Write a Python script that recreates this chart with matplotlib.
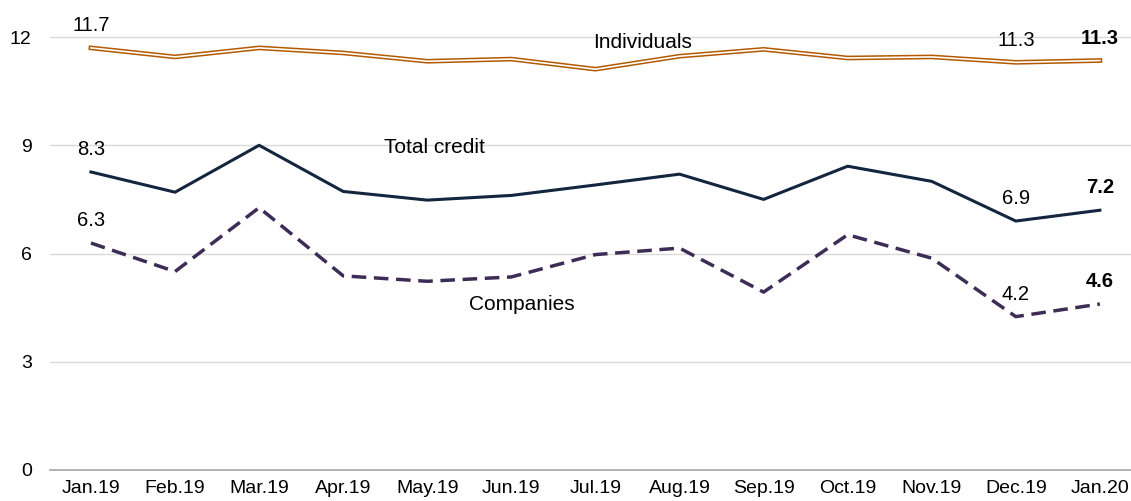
import matplotlib.pyplot as plt

plt.rcParams['font.family'] = ['Liberation Sans', 'DejaVu Sans']

months = ['Jan.19', 'Feb.19', 'Mar.19', 'Apr.19', 'May.19', 'Jun.19', 'Jul.19',
          'Aug.19', 'Sep.19', 'Oct.19', 'Nov.19', 'Dec.19', 'Jan.20']
individuals = [11.7, 11.45, 11.7, 11.56, 11.33, 11.39, 11.11, 11.47, 11.66, 11.42, 11.45, 11.3, 11.35]
total_credit = [8.26, 7.7, 9.0, 7.72, 7.48, 7.61, 7.9, 8.2, 7.5, 8.42, 8.0, 6.9, 7.2]
companies = [6.29, 5.5, 7.27, 5.38, 5.23, 5.35, 5.97, 6.15, 4.93, 6.52, 5.87, 4.25, 4.6]

x = list(range(len(months)))

fig = plt.figure(figsize=(11.31, 5.01), dpi=100)
ax = fig.add_axes([0.044, 0.062, 0.956, 0.9])

# Individuals: double line (brown outline, white core)
ax.plot(x, individuals, color='#B35900', lw=3.4, solid_joinstyle='miter', zorder=3)
ax.plot(x, individuals, color='white', lw=1.2, solid_joinstyle='miter', zorder=4)
ax.plot(x, total_credit, color='#14263F', lw=2.2, zorder=3)
ax.plot(x, companies, color='#3D2C55', lw=2.5, ls=(0, (4.2, 2.2)), zorder=3)

# data labels
def label(i, series, bold=False):
    ax.annotate(f'{series[i]:.1f}', xy=(x[i], series[i]), xytext=(0, 16),
                textcoords='offset points', ha='center', va='center',
                fontsize=14.5, fontweight='bold' if bold else 'normal')

for s in (individuals, total_credit, companies):
    label(0, s)
    label(11, s)
    label(12, s, bold=True)

# series names
ax.text(6.56, 11.86, 'Individuals', ha='center', va='center', fontsize=15)
ax.text(4.09, 8.95, 'Total credit', ha='center', va='center', fontsize=15)
ax.text(5.13, 4.6, 'Companies', ha='center', va='center', fontsize=15)

ax.set_xlim(-0.49, 12.37)
ax.set_ylim(0, 12.5)
ax.set_yticks([0, 3, 6, 9, 12])
ax.set_xticks(x)
ax.set_xticklabels(months)
ax.tick_params(axis='both', length=0, labelsize=14, colors='black')
ax.tick_params(axis='y', pad=13)
ax.tick_params(axis='x', pad=7)
ax.grid(axis='y', color='#D9D9D9', lw=1)
ax.set_axisbelow(True)
for side in ['top', 'right', 'left']:
    ax.spines[side].set_visible(False)
ax.spines['bottom'].set_color('#A6A6A6')
ax.spines['bottom'].set_linewidth(1.2)

fig.savefig('out.png', dpi=100)
